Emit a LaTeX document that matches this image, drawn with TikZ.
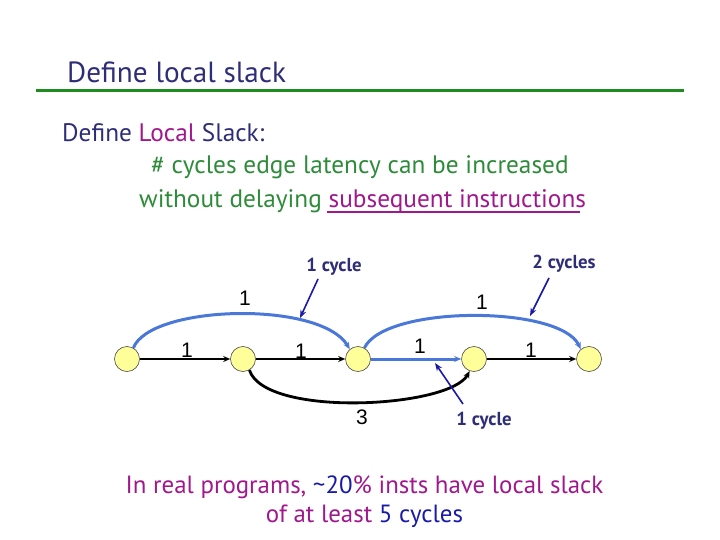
\documentclass[tikz,border=0pt]{standalone}
\usepackage{fontspec}
\setmainfont{PT Sans}
\newfontfamily\arialf{Liberation Sans}
\usetikzlibrary{arrows.meta}
\definecolor{titleblue}{HTML}{2E2E78}
\definecolor{linegreen}{HTML}{1E8C1E}
\definecolor{txtgreen}{HTML}{2E8B3A}
\definecolor{magent}{HTML}{A0188C}
\definecolor{arcblue}{HTML}{4A78D8}
\definecolor{annblue}{HTML}{1A1AA8}
\definecolor{nodefill}{HTML}{FFFF99}
\tikzset{
  vert/.style={circle,draw=gray!60!black,fill=nodefill,minimum size=25pt,inner sep=0pt,line width=0.6pt},
  blk/.style={draw=black,line width=2.8pt,-{Stealth[length=7pt,width=6pt]}},
  blu/.style={draw=arcblue,line width=3pt,-{Stealth[length=7pt,width=6pt]}},
  ann/.style={draw=annblue,line width=1.6pt,-{Stealth[length=8pt,width=6pt]}},
  num/.style={font=\arialf\fontsize{21}{21}\selectfont,inner sep=0pt},
  anntxt/.style={font=\bfseries\fontsize{18.8}{18.8}\selectfont,text=titleblue,inner sep=0pt},
  bodytxt/.style={inner sep=0pt,font=\fontsize{25.3}{25.3}\selectfont},
}
\begin{document}
\begin{tikzpicture}[x=1pt,y=-1pt]
\useasboundingbox (0,0) rectangle (720,540);
\node[anchor=west,inner sep=0pt,text=titleblue,font=\fontsize{29.2}{29.2}\selectfont] (title) at (67,72) {Define local slack};
\draw[linegreen,line width=3pt] (36,91) -- (684,91);
\node[bodytxt,anchor=west,text=titleblue] (def) at (62,133) {Define \textcolor{magent}{Local} Slack:};
\node[bodytxt,anchor=west,text=txtgreen] (l1) at (151,167) {\# cycles edge latency can be increased};
\node[bodytxt,anchor=west,text=txtgreen] (l2) at (139,201) {without delaying \textcolor{magent}{subsequent instructions}};
\draw[magent,line width=1.6pt] (327,212) -- (580,212);

\node[vert] (n1) at (127,359) {};
\node[vert] (n2) at (243,359) {};
\node[vert] (n3) at (358,359) {};
\node[vert] (n4) at (474,359) {};
\node[vert] (n5) at (589,359) {};

\draw[blk] (n1) -- (n2);
\draw[blk] (n2) -- (n3);
\draw[blu] (n3) -- (n4);
\draw[blk] (n4) -- (n5);
\node[num] (e1) at (187,350) {1};
\node[num] (e2) at (301,351) {1};
\node[num] (e3) at (420,346) {1};
\node[num] (e4) at (531,350) {1};

\draw[blu] (n1.60) .. controls (150,305) and (320,300) .. (n3.130);
\draw[blu] (n3.60) .. controls (385,305) and (560,305) .. (n5.130);
\node[num] (a1) at (245,298) {1};
\node[num] (a2) at (482,302) {1};

\draw[blk] (n2.-60) .. controls (265,418) and (450,408) .. (n4.-110);
\node[num] (a3) at (362,417) {3};

\node[anntxt] (c1) at (334,267) {1 cycle};
\node[anntxt] (c2) at (564,264) {2 cycles};
\node[anntxt] (c3) at (484,421) {1 cycle};
\coordinate (t1) at (300,318);
\coordinate (t2) at (530,316);
\coordinate (t3) at (435,363);
\draw[ann] (318,279) -- (t1);
\draw[ann] (549,278) -- (t2);
\draw[ann] (463,404) -- (t3);

\node[bodytxt,text=magent,font=\fontsize{24.9}{24.9}\selectfont] (b1) at (364.5,487) {In real programs, \textcolor{annblue}{\textasciitilde 20}\% insts have local slack};
\node[bodytxt,text=magent,font=\fontsize{24.9}{24.9}\selectfont] (b2) at (364.5,516) {of at least \textcolor{annblue}{5 cycles}};
\end{tikzpicture}
\end{document}
